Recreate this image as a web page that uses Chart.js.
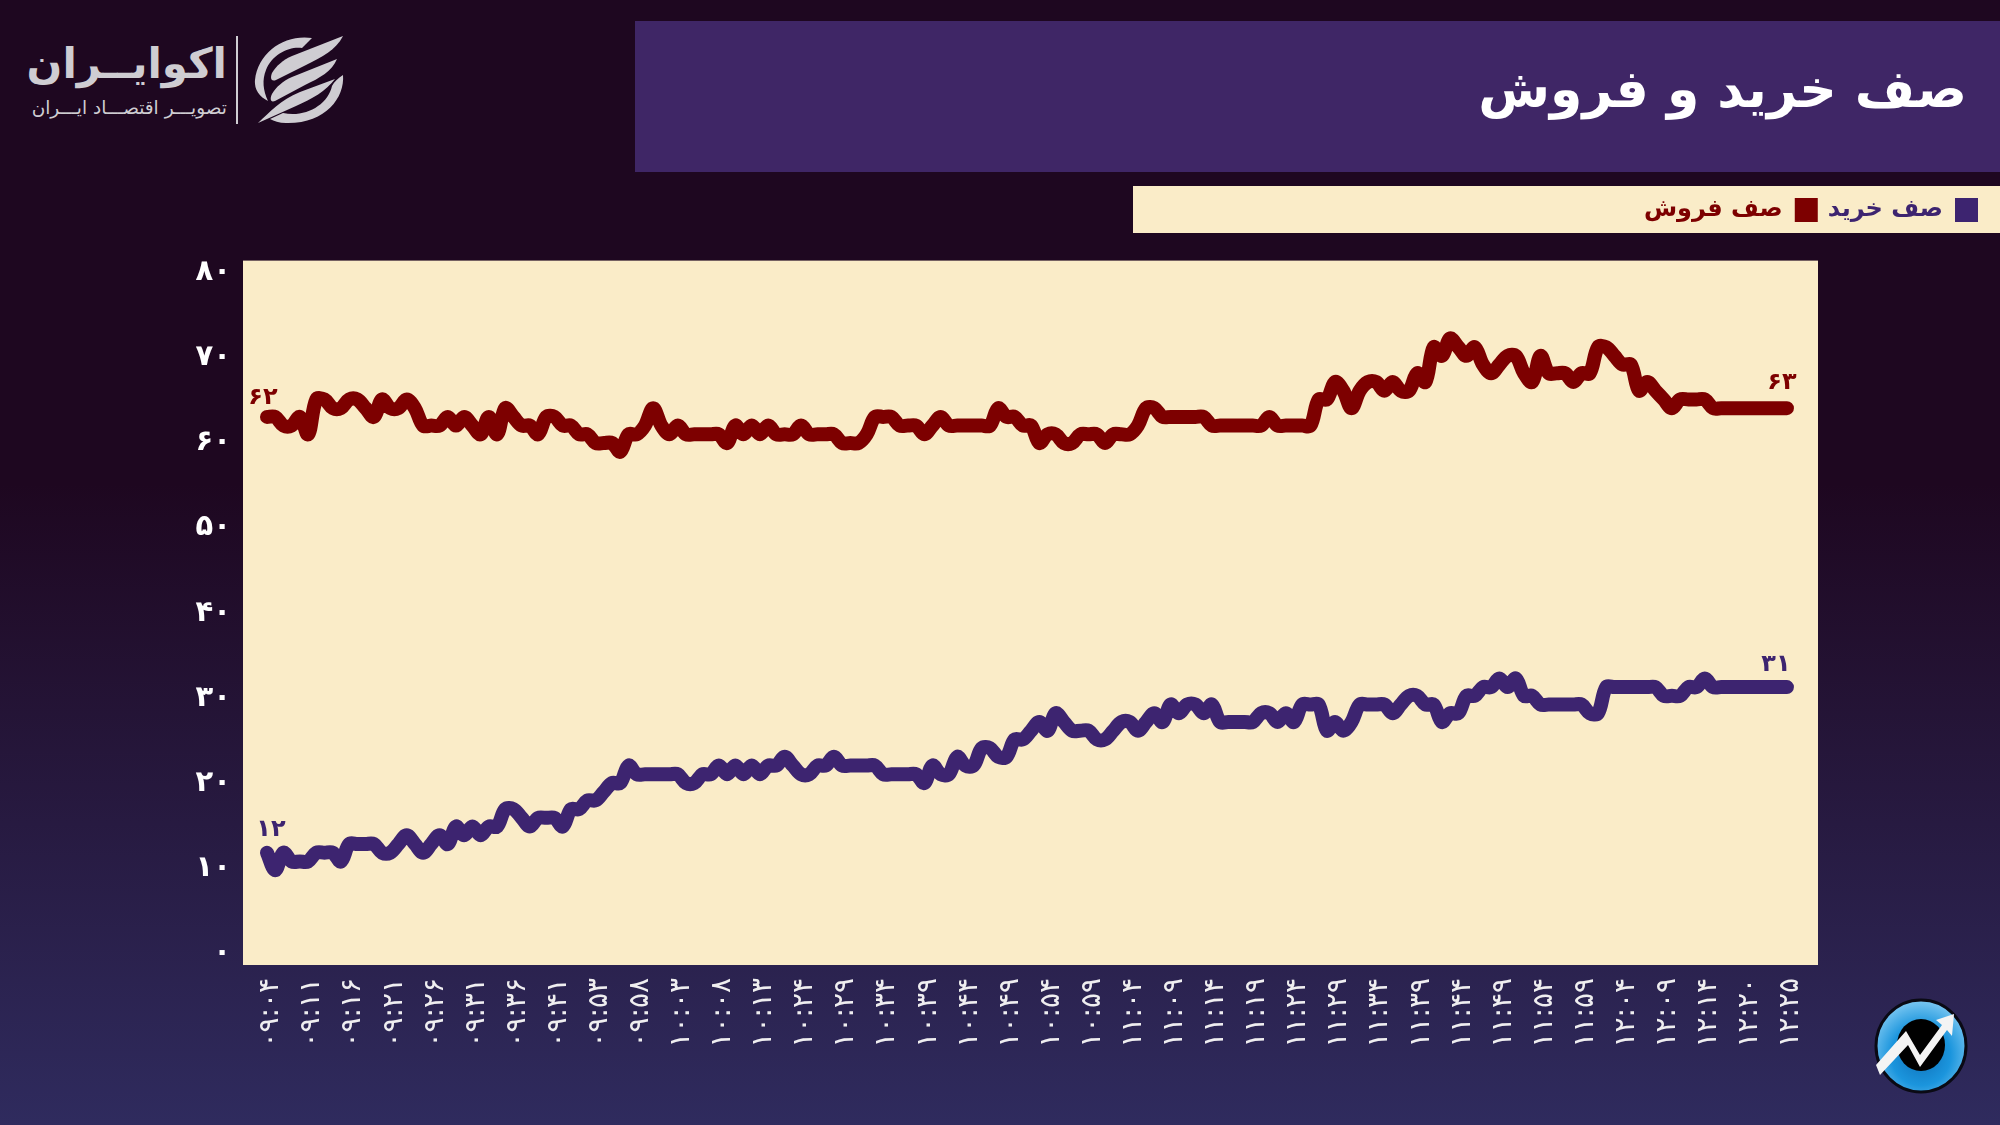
<!DOCTYPE html>
<html lang="fa"><head><meta charset="utf-8">
<script src="https://cdn.jsdelivr.net/npm/chart.js@4"></script>
<style>
html,body{margin:0;padding:0;width:2000px;height:1125px;overflow:hidden;background:linear-gradient(180deg,#1e0720 0%,#1e0720 43%,#2f2b5e 100%);}
.abs{position:absolute}
#band1{left:635px;top:21px;width:1365px;height:151px;background:#3f2666}
#band2{left:1133px;top:186px;width:867px;height:47px;background:#faecc8}
#chartWrap{left:0;top:0;width:2000px;height:1125px}
.lg{font-family:"DejaVu Sans",sans-serif;color:#cfcdd2;direction:rtl;white-space:nowrap;text-align:right}
#lg1{left:0;width:227px;top:34px;font-size:42px;font-weight:700;line-height:60px;}
#lg2{left:0;width:227px;top:94px;font-size:18.5px;line-height:28px}
#div{left:236px;top:36px;width:2px;height:88px;background:#cfcdd2}
</style></head><body>
<div class="abs" id="band1"></div>
<div class="abs" id="band2"></div>
<div class="abs lg" id="lg1">اکوایــران</div>
<div class="abs lg" id="lg2">تصویـــر اقتصـــاد ایـــران</div>
<div class="abs" id="div"></div>
<svg class="abs" style="left:250px;top:30px" width="100" height="100" viewBox="250 30 100 100">
<g fill="#cfcdd2">
<path d="M343 36C336 50 322 57 306 65L276 80C271 82 270 78 272 73C276 66 283 60 292 56Z"/>
<path d="M337 59C332 71 320 78 305 85L275 101C270 103 270 98 272 94C276 87 283 81 292 77L337 59Z"/>
<path d="M335 79C326 91 312 99 296 106L258 123C270 112 280 100 300 92Z"/>
<path d="M312 38C285 34 258 52 255 80C254 90 260 97 268 101C263 90 262 80 266 70C272 54 290 46 302 48Z"/>
<path d="M343 75C345 98 325 124 286 123C279 123 274 121 270 119L283 113C305 118 328 105 332 86C334 82 338 78 343 75Z"/>
</g></svg>
<svg class="abs" style="left:1870px;top:995px" width="102" height="102" viewBox="0 0 102 102">
<defs><radialGradient id="gb" cx="50%" cy="60%" r="60%"><stop offset="0%" stop-color="#0e6fb8"/><stop offset="55%" stop-color="#1b95dd"/><stop offset="100%" stop-color="#7cc8f2"/></radialGradient></defs>
<ellipse cx="51" cy="51" rx="45" ry="46" fill="url(#gb)" stroke="#0a0a14" stroke-width="3"/>
<ellipse cx="51" cy="50" rx="24" ry="26" fill="#000"/>
<path d="M6 70L36 36L50 60L72 30L66 25L84 19L82 41L77 35L50 72L38 50L10 80Z" fill="#f4f4f4"/>
</svg>
<div class="abs" id="chartWrap"><canvas id="c" width="2000" height="1125"></canvas></div>
<script>
const titleText = "صف خرید و فروش";
const seriesBuyName = "صف خرید";
const seriesSellName = "صف فروش";
const timeLabels = ["۰۹:۰۴","۰۹:۱۱","۰۹:۱۶","۰۹:۲۱","۰۹:۲۶","۰۹:۳۱","۰۹:۳۶","۰۹:۴۱","۰۹:۵۳","۰۹:۵۸","۱۰:۰۳","۱۰:۰۸","۱۰:۱۳","۱۰:۲۴","۱۰:۲۹","۱۰:۳۴","۱۰:۳۹","۱۰:۴۴","۱۰:۴۹","۱۰:۵۴","۱۰:۵۹","۱۱:۰۴","۱۱:۰۹","۱۱:۱۴","۱۱:۱۹","۱۱:۲۴","۱۱:۲۹","۱۱:۳۴","۱۱:۳۹","۱۱:۴۴","۱۱:۴۹","۱۱:۵۴","۱۱:۵۹","۱۲:۰۴","۱۲:۰۹","۱۲:۱۴","۱۲:۲۰","۱۲:۲۵"];
const sellQueue = [
62,62,61,61,62,60,64,64,63,63,
64,64,63,62,64,63,63,64,63,61,
61,61,62,61,62,61,60,62,60,63,
62,61,61,60,62,62,61,61,60,60,
59,59,59,58,60,60,61,63,61,60,
61,60,60,60,60,60,59,61,60,61,
60,61,60,60,60,61,60,60,60,60,
59,59,59,60,62,62,62,61,61,61,
60,61,62,61,61,61,61,61,61,63,
62,62,61,61,59,60,60,59,59,60,
60,60,59,60,60,60,61,63,63,62,
62,62,62,62,62,61,61,61,61,61,
61,61,62,61,61,61,61,61,64,64,
66,65,63,65,66,66,65,66,65,65,
67,66,70,69,71,70,69,70,68,67,
68,69,69,67,66,69,67,67,67,66,
67,67,70,70,69,68,68,65,66,65,
64,63,64,64,64,64,63,63,63,63,
63,63,63,63,63,63];
const buyQueue = [
12,10,12,11,11,11,12,12,12,11,
13,13,13,13,12,12,13,14,13,12,
13,14,13,15,14,15,14,15,15,17,
17,16,15,16,16,16,15,17,17,18,
18,19,20,20,22,21,21,21,21,21,
21,20,20,21,21,22,21,22,21,22,
21,22,22,23,22,21,21,22,22,23,
22,22,22,22,22,21,21,21,21,21,
20,22,21,21,23,22,22,24,24,23,
23,25,25,26,27,26,28,27,26,26,
26,25,25,26,27,27,26,27,28,27,
29,28,29,29,28,29,27,27,27,27,
27,28,28,27,28,27,29,29,29,26,
27,26,27,29,29,29,29,28,29,30,
30,29,29,27,28,28,30,30,31,31,
32,31,32,30,30,29,29,29,29,29,
29,28,28,31,31,31,31,31,31,31,
30,30,30,31,31,32,31,31,31,31,
31,31,31,31,31,31];
const yTickValues = [0,10,20,30,40,50,60,70,80];
const persianDigits = "۰۱۲۳۴۵۶۷۸۹";
const fa = n => String(n).replace(/\d/g,d=>persianDigits[d]);

const RED="#7d0000", BLUE="#3d2470", CREAM="#faecc8";
const FONT='"DejaVu Sans",sans-serif';
const pts = a => a.map((v,i)=>({x:i,y:v}));

const bgPlugin={id:'bg',beforeDatasetsDraw(ch){const a=ch.chartArea,c=ch.ctx;c.save();c.fillStyle=CREAM;c.fillRect(a.left,a.top,a.right-a.left,a.bottom-a.top);c.restore();}};
const titleShift={id:'titleShift',beforeDraw(ch){ch.titleBlock.right=1967;}};
const endLabels={id:'endLabels',afterDatasetsDraw(ch){
  const c=ch.ctx,x=ch.scales.x,y=ch.scales.y;
  const items=[[sellQueue,0,RED,-4,-19],[sellQueue,sellQueue.length-1,RED,-5,-25],[buyQueue,0,BLUE,4,-23],[buyQueue,buyQueue.length-1,BLUE,-11,-22]];
  c.save();c.font='bold 24px '+FONT;c.textAlign='center';c.textBaseline='middle';
  for(const [arr,i,col,dx,dy] of items){c.fillStyle=col;c.fillText(fa(arr[i]),x.getPixelForValue(i)+dx,y.getPixelForValue(arr[i])+dy);}
  c.restore();
}};

new Chart(document.getElementById('c'),{
 type:'line',
 data:{datasets:[
  {label:seriesBuyName,data:pts(buyQueue),borderColor:BLUE,backgroundColor:BLUE,borderWidth:14,pointRadius:0,tension:0.35,borderCapStyle:'round',borderJoinStyle:'round',fill:false,yAxisID:'y',xAxisID:'x'},
  {label:seriesSellName,data:pts(sellQueue),borderColor:RED,backgroundColor:RED,borderWidth:14,pointRadius:0,tension:0.35,borderCapStyle:'round',borderJoinStyle:'round',fill:false,yAxisID:'y',xAxisID:'x'}
 ]},
 options:{
  responsive:false,animation:false,
  layout:{padding:{top:20,right:12,left:0,bottom:0}},
  plugins:{
   tooltip:{enabled:false},
   title:{display:true,text:titleText,align:'end',color:'#ffffff',font:{family:FONT,size:52,weight:'bold',lineHeight:1.2},padding:{top:42,bottom:63.6}},
   legend:{display:true,position:'top',align:'start',rtl:true,textDirection:'rtl',
     labels:{boxWidth:23,boxHeight:24,padding:10,font:{family:FONT,size:24,weight:'bold'},
       generateLabels(ch){return Chart.defaults.plugins.legend.labels.generateLabels(ch).map(it=>({...it,fontColor:it.fillStyle,lineWidth:0}));}}}
  },
  scales:{
   x:{type:'linear',position:'bottom',min:-2.921,max:188.78,grid:{display:false,drawTicks:false},border:{display:false},
      afterBuildTicks(s){s.ticks=timeLabels.map((_,k)=>({value:k*5}));},
      afterFit(s){s.height=160;},
      ticks:{autoSkip:false,minRotation:90,maxRotation:90,padding:13,labelOffset:4,color:'#efeef0',font:{family:FONT,size:28},
        callback(v){return timeLabels[Math.round(v/5)];}}},
   xTop:{type:'linear',position:'top',display:true,min:0,max:1,grid:{display:false,drawTicks:false},border:{display:false},ticks:{display:false},
      afterFit(s){s.height=28.6;}},
   y:{type:'linear',position:'left',display:false,min:-0.88,max:79.93},
   yLabels:{type:'linear',position:'left',min:-1.37,max:81.41,grid:{display:false,drawTicks:false},border:{display:false},
      afterBuildTicks(s){s.ticks=yTickValues.map(v=>({value:v}));},
      afterFit(s){s.width=243;},
      ticks:{padding:12,color:'#ffffff',font:{family:FONT,size:29,weight:'bold'},callback:v=>fa(v)}},
   yRight:{type:'linear',position:'right',display:true,min:0,max:1,grid:{display:false,drawTicks:false},border:{display:false},ticks:{display:false},
      afterFit(s){s.width=170;}}
  }
 },
 plugins:[bgPlugin,titleShift,endLabels]
});
</script>
</body></html>
